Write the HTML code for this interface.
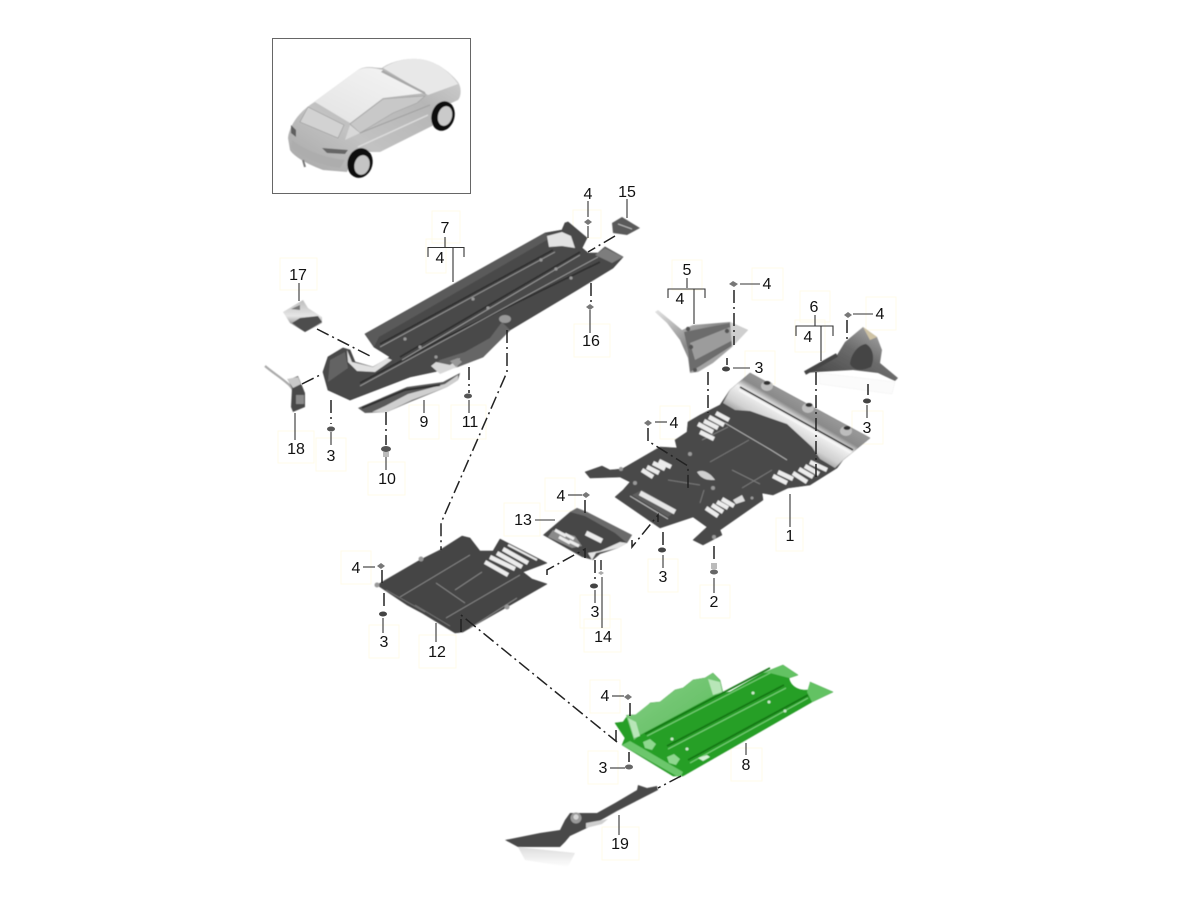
<!DOCTYPE html>
<html><head><meta charset="utf-8"><title>Underbody panels</title>
<style>
html,body{margin:0;padding:0;background:#fff;width:1200px;height:900px;overflow:hidden}
svg{display:block}
text{font-family:"Liberation Sans",sans-serif;font-size:16px;fill:#111;text-anchor:middle}
.l{stroke:#333;stroke-width:1.1;fill:none}
.d{stroke:#222;stroke-width:1.5;fill:none;stroke-dasharray:13 4 2 4}
.y{fill:none;stroke:#fffbe9;stroke-width:1}
.s{stroke:#ececec;stroke-width:4.4;stroke-linecap:butt;fill:none}
.r{stroke:#8a8a8a;stroke-width:.8;fill:none}
.n{fill:#555}
.h{fill:#999}
</style></head><body>
<svg width="1200" height="900" viewBox="0 0 1200 900" xmlns="http://www.w3.org/2000/svg">
<defs>
<filter id="b" x="-5%" y="-5%" width="110%" height="110%"><feGaussianBlur stdDeviation=".45"/></filter>
<linearGradient id="car" x1="0" y1="1" x2="1" y2="0"><stop offset="0" stop-color="#a6a6a6"/><stop offset=".35" stop-color="#c2c2c2"/><stop offset=".7" stop-color="#b6b6b6"/><stop offset="1" stop-color="#d6d6d6"/></linearGradient>
<linearGradient id="rf" x1="0" y1="1" x2="1" y2="0"><stop offset="0" stop-color="#e2e2e2"/><stop offset="1" stop-color="#f6f6f6"/></linearGradient>
<linearGradient id="lt" gradientUnits="userSpaceOnUse" x1="815" y1="403" x2="786" y2="452"><stop offset="0" stop-color="#9c9c9c"/><stop offset=".28" stop-color="#8a8a8a"/><stop offset=".42" stop-color="#f2f2f2"/><stop offset=".7" stop-color="#d0d0d0"/><stop offset="1" stop-color="#6a6a6a"/></linearGradient>
<linearGradient id="p5" x1="0" y1="0" x2="1" y2="1"><stop offset="0" stop-color="#e4e4e4"/><stop offset=".45" stop-color="#8a8a8a"/><stop offset=".75" stop-color="#a8a8a8"/><stop offset="1" stop-color="#4a4a4a"/></linearGradient>
<linearGradient id="p6" x1="0" y1="1" x2="1" y2="0"><stop offset="0" stop-color="#3f3f3f"/><stop offset=".55" stop-color="#6c6c6c"/><stop offset="1" stop-color="#bdbdbd"/></linearGradient>
<linearGradient id="gl" x1="0" y1="0" x2="1" y2="1"><stop offset="0" stop-color="#86cf86"/><stop offset="1" stop-color="#5abb5a"/></linearGradient>
<linearGradient id="fade" x1="0" y1="0" x2="0" y2="1"><stop offset="0" stop-color="#dcdcdc"/><stop offset="1" stop-color="#fff"/></linearGradient>
<linearGradient id="p17" x1="0" y1="0" x2="0" y2="1"><stop offset="0" stop-color="#bdbdbd"/><stop offset=".5" stop-color="#e6e6e6"/><stop offset="1" stop-color="#555"/></linearGradient>
</defs>

<!-- faint label boxes -->
<g class="y">
<rect x="432" y="211" width="28" height="32"/><rect x="426" y="239" width="20" height="34"/>
<rect x="280" y="258" width="37" height="32"/><rect x="573" y="210" width="28" height="28"/>
<rect x="574" y="324" width="36" height="33"/><rect x="278" y="431" width="36" height="32"/>
<rect x="316" y="438" width="30" height="33"/><rect x="368" y="462" width="37" height="33"/>
<rect x="409" y="405" width="30" height="34"/><rect x="451" y="405" width="35" height="34"/>
<rect x="672" y="260" width="30" height="30"/><rect x="752" y="268" width="31" height="32"/>
<rect x="800" y="291" width="30" height="31"/><rect x="795" y="320" width="30" height="32"/>
<rect x="866" y="297" width="30" height="33"/><rect x="745" y="351" width="30" height="33"/>
<rect x="852" y="411" width="31" height="33"/><rect x="660" y="406" width="30" height="33"/>
<rect x="776" y="518" width="27" height="33"/><rect x="648" y="559" width="30" height="33"/>
<rect x="700" y="585" width="30" height="33"/><rect x="545" y="478" width="30" height="33"/>
<rect x="504" y="503" width="36" height="33"/><rect x="341" y="551" width="30" height="33"/>
<rect x="369" y="625" width="30" height="33"/><rect x="419" y="635" width="37" height="33"/>
<rect x="580" y="595" width="30" height="33"/><rect x="584" y="619" width="37" height="33"/>
<rect x="590" y="680" width="30" height="33"/><rect x="588" y="751" width="30" height="33"/>
<rect x="731" y="748" width="31" height="33"/><rect x="602" y="827" width="37" height="33"/>
</g>

<!-- inset -->
<rect x="272.5" y="38.5" width="198" height="155" fill="#fff" stroke="#666" stroke-width="1"/>
<g filter="url(#b)">
<path d="M288 138C289 128 296 115 310 105L358 70C366 65 374 68 382 68 390 62 405 58 418 59 435 60 450 72 458 82 462 88 461 97 458 100L447 105C440 110 437 120 434 125L380 152 368 152C360 150 350 165 347 172L323 170C310 165 295 158 290 150Z" fill="url(#car)"/>
<path d="M310 105L358 70C366 66 375 68 383 70L425 93 383 98 350 123 315 102Z" fill="url(#rf)"/>
<path d="M383 68C392 62 405 58 418 59 435 60 450 72 458 84L428 95Z" fill="#e8e8e8"/>
<path d="M383 70L425 92 426 95 381 72Z" fill="#a8a8a8"/>
<path d="M308 107L344 125 338 138 300 122Z" fill="#d2d2d2" stroke="#999" stroke-width=".6"/>
<path d="M350 124L383 99 425 96 417 103 393 113 360 133Z" fill="#c8c8c8" stroke="#a0a0a0" stroke-width=".6"/>
<path d="M350 125L345 140 360 133Z" fill="#d8d8d8"/>
<path d="M322 148L348 150 345 154 327 153Z" fill="#666"/>
<path d="M291 125L296 130 296 137 291 133Z" fill="#5f5f5f"/>
<path d="M292 140C305 150 325 158 345 160L340 168C320 166 300 156 291 147Z" fill="#adadad"/>
<path d="M360 133L430 105" stroke="#a0a0a0" fill="none"/>
<path d="M358 147L428 115" stroke="#dcdcdc" fill="none" stroke-width="1.5"/>
<ellipse cx="360" cy="163" rx="12.5" ry="15" fill="#111" transform="rotate(15 360 163)"/>
<ellipse cx="362" cy="165" rx="7.5" ry="10" fill="#c4c4c4" transform="rotate(15 362 165)"/>
<ellipse cx="443" cy="116" rx="11.5" ry="15" fill="#111" transform="rotate(15 443 116)"/>
<ellipse cx="445" cy="116" rx="7" ry="10" fill="#cacaca" transform="rotate(15 445 116)"/>
<path d="M303 160L305 167" stroke="#777" stroke-width="2"/>
</g>

<g filter="url(#b)">
<!-- Part 7 -->
<path d="M323 372L328 357 343 348 350 350 355 362 373 367 390 357 374 347 365 334 545 233 562 230 565 223 568 222 587 238 582 248 588 253 598 253 605 247 623 257 613 268 577 290 510 330 483 357 457 367 410 377 350 400 328 390Z" fill="#4a4a4a" stroke="#333" stroke-width=".6"/>
<path d="M365 334L545 233 552 237 379 337 374 347Z" fill="#5a5a5a"/>
<path d="M547 236L562 232 571 236 575 248 562 246 549 247Z" fill="#e2e2e2"/>
<path d="M347 350L352 362 373 367 387 358 392 360 375 372 357 371 348 362Z" fill="#e0e0e0"/>
<path d="M330 360L345 352 348 368 328 382Z" fill="#636363"/>
<path d="M595 255L605 248 623 257 612 263Z" fill="#7d7d7d"/>
<path d="M380 344L553 250 M400 357L580 252 M360 383L388 368 440 340 600 262" stroke="#2e2e2e" stroke-width="1.8" fill="none"/>
<path d="M380 347L555 252 M360 386L598 257 M402 360L580 255" stroke="#a0a0a0" stroke-width=".8" fill="none"/>
<path d="M432 367L440 360 465 352 490 338 502 322 510 330 483 357 457 367Z" fill="#666"/>
<path d="M431 366L436 362 450 365 460 358 457 367 440 374Z" fill="#d8d8d8"/>
<ellipse cx="505" cy="319" rx="6" ry="4" fill="#999"/>
<path d="M450 361l8-3 4 4-6 5z" fill="#999"/>
<g class="h"><circle cx="405" cy="339" r="1.6"/><circle cx="473" cy="299" r="1.6"/><circle cx="541" cy="260" r="1.6"/><circle cx="420" cy="347" r="1.6"/><circle cx="488" cy="308" r="1.6"/><circle cx="556" cy="269" r="1.6"/><circle cx="436" cy="357" r="1.6"/><circle cx="571" cy="278" r="1.6"/></g>

<!-- Part 15 -->
<path d="M612 223L622 217 640 228 627 235 613 233Z" fill="#5a5a5a"/>
<path d="M618 224l14 5" stroke="#bbb"/>
<!-- Part 17 -->
<path d="M283 312L303 300 308 308 322 317 322 323 305 332 290 323Z" fill="url(#p17)"/>
<path d="M292 323L300 318 318 316 322 322 305 332Z" fill="#4d4d4d"/>
<path d="M291 309l9-4 0 5z" fill="#777"/>
<!-- Part 18 -->
<path d="M265 366C272 372 280 377 287 383 292 387 294 391 295 397" stroke="#aaa" stroke-width="2.2" fill="none"/>
<path d="M288 380L298 376 305 393 305 407 293 412 291 407 292 388Z" fill="#4a4a4a"/>
<path d="M287 379L298 377 301 384 293 388Z" fill="#c9c9c9"/>
<path d="M296 395h8v9h-8z" fill="#8a8a8a"/>
<!-- Part 9 -->
<path d="M358 408L407 387 443 382 460 373 458 380 447 387 410 402 387 412 365 413Z" fill="#5a5a5a"/>
<path d="M412 400L447 387 458 380 458 375 445 384 408 394 385 406 372 412 387 412Z" fill="#cfcfcf"/>
<path d="M362 408L405 390 440 385" stroke="#2d2d2d" stroke-width="2" fill="none"/>

<!-- Part 5 -->
<path d="M655 312L658 310 682 330 693 325 730 322 748 330 732 347 713 363 698 372 690 373 688 358 680 340 667 323Z" fill="url(#p5)"/>
<path d="M684 332L730 323 733 345 700 366 690 372 688 350Z" fill="#6c6c6c"/>
<path d="M690 343L730 327 733 340 695 360Z" fill="#9c9c9c"/>
<path d="M730 322L748 330 732 347Z" fill="#cfcfcf"/>
<g class="n"><circle cx="688" cy="329" r="2.2"/><circle cx="727" cy="331" r="2.2"/><circle cx="691" cy="347" r="2.2"/><circle cx="695" cy="370" r="2"/></g>
<!-- Part 6 -->
<path d="M820 373L895 382 892 394 820 384Z" fill="#fbfbfb" stroke="#f0f0f0" stroke-width=".5"/>
<path d="M805 373L837 355 845 342 863 327 877 337 882 350 880 363 898 378 895 381 878 373 853 370 817 372Z" fill="url(#p6)"/>
<path d="M850 364C851 354 858 345 866 344 873 348 875 358 871 367 862 371 854 371 850 364Z" fill="#454545"/>
<path d="M863 327L877 337 870 340Z" fill="#cfc3a4"/>
<path d="M805 373L837 355" stroke="#444" stroke-width="4"/>

<!-- Part 1 -->
<path d="M585 472L602 466 610 470 622 469 660 447 677 448 675 440 687 432 688 422 700 415 720 405 730 390 750 373 870 438 843 460 837 468 810 485 788 488 773 495 762 493 763 500 720 530 722 535 703 545 693 540 707 527 693 517 660 528 615 497 623 490 630 482 620 477 590 478Z" fill="#4a4a4a" stroke="#3a3a3a" stroke-width=".5"/>
<path d="M723 403L730 390 750 373 870 438 843 460 835 468 820 459 812 447 787 424 750 411 735 410Z" fill="url(#lt)"/>
<path d="M740 387L853 450" stroke="#2e2e2e" stroke-width="1.6"/>
<path d="M739 390L851 453" stroke="#f6f6f6" stroke-width="2"/>
<ellipse cx="767" cy="386" rx="6" ry="5" fill="#bdbdbd"/><ellipse cx="808" cy="408" rx="6" ry="5" fill="#bdbdbd"/><ellipse cx="846" cy="431" rx="6" ry="5" fill="#bdbdbd"/>
<g fill="#333"><ellipse cx="767" cy="383" rx="3.5" ry="2"/><ellipse cx="809" cy="405" rx="3.5" ry="2"/><ellipse cx="847" cy="428" rx="3.5" ry="2"/></g>
<path d="M725 423L771 450 787 460" stroke="#bdbdbd" stroke-width=".8" fill="none"/>
<path d="M702 440L728 427 M710 462L749 440 M742 488L772 470 M700 503L704 490 M732 470L760 484 M668 480L700 485" stroke="#7a7a7a" stroke-width="1" fill="none"/>
<path d="M697 472C704 468 712 475 715 480 708 480 702 480 697 472Z" fill="#cfcfcf"/>
<path d="M733 500l9-5 3 6-9 3z" fill="#ddd"/>
<g class="s">
<path d="M642 470L653 477M647 467L659 473M653 463L665 469M659 461L671 467"/>
<path d="M698 424L713 432M704 421L718 428M709 417L724 425M716 413L729 420M700 432L714 439"/>
<path d="M706 508L718 516M712 505L723 512M717 502L728 508M722 499L734 506"/>
<path d="M773 476L787 483M778 472L793 479M793 473L807 482M799 469L813 477M805 466L819 474M810 462L827 470"/>
</g>
<path d="M632 495L642 490 677 510 668 517Z" fill="#5f5f5f"/>
<path d="M640 493L675 512" stroke="#e6e6e6" stroke-width="5"/>
<path d="M630 496L668 519" stroke="#bdbdbd" stroke-width="1"/>
<g class="h"><circle cx="621" cy="469" r="2"/><circle cx="635" cy="483" r="2"/><circle cx="690" cy="454" r="2"/><circle cx="713" cy="488" r="2"/><circle cx="752" cy="498" r="1.5"/><circle cx="714" cy="537" r="2"/></g>

<!-- Part 13 -->
<path d="M543 535L570 512 577 508 587 512 632 535 627 543 618 548 600 554 593 560 582 557Z" fill="#474747"/>
<path d="M570 512L577 508 587 512 632 535 627 543 615 533 585 516Z" fill="#6a6a6a"/>
<path d="M596 553L618 548 627 543 620 542 600 551 588 553 592 560Z" fill="#e3e3e3"/>
<path d="M553 530L575 536 582 546 572 548 548 537Z" fill="#8a8a8a"/>
<g class="s" style="stroke-width:3"><path d="M555 530L566 536M565 534L574 539M559 537L570 543M569 541L579 546"/></g>
<path d="M586 533L602 541" stroke="#ececec" stroke-width="5"/>

<!-- Part 12 -->
<path d="M377 585L420 560 440 550 462 536 470 538 480 551 493 551 500 539 547 563 523 572 532 579 547 584 507 607 463 632 455 633 422 613 407 605Z" fill="#454545" stroke="#333" stroke-width=".5"/>
<g class="s"><path d="M485 562L508 575M490 557L515 569M497 553L522 567M503 549L528 563"/></g>
<path d="M508 545L537 560" stroke="#ececec" stroke-width="2"/>
<path d="M400 597L470 555 M436 583L465 603 M455 590L482 572 M470 628L517 598 M446 618L520 575" stroke="#8a8a8a" stroke-width=".9" fill="none"/>
<path d="M386 590L425 612 M415 605L450 626" stroke="#777" stroke-width=".8" fill="none"/>
<g class="h"><circle cx="421" cy="559" r="2.5"/><circle cx="507" cy="607" r="2.5"/><circle cx="377" cy="585" r="2.5"/></g>

<!-- Part 8 -->
<path d="M615 723L623 722 628 715 635 715 643 712 650 703 660 702 675 690 683 688 693 680 705 678 713 673 720 680 723 693 730 692 763 673 778 667 783 665 798 675 789 678C790 686 800 693 812 689L810 682 833 692 812 702 683 776 673 776 622 745 625 738Z" fill="#259f25" stroke="#1a8a1a" stroke-width=".5"/>
<path d="M626 715L635 715 650 703 660 702 675 690 683 688 693 680 705 678 713 673 720 680 723 693 715 695 640 735 634 740Z" fill="url(#gl)"/>
<path d="M708 679L720 682 722 692 713 695Z" fill="#b8e6b8"/>
<path d="M628 718L636 722 640 736 634 738Z" fill="#b8e6b8"/>
<path d="M645 734L770 668 M667 746L784 685 M688 760L808 695" stroke="#177717" stroke-width="1.8" fill="none"/>
<path d="M647 736L772 672 M668 749L786 688 M690 763L808 698" stroke="#7bd07b" stroke-width="1" fill="none"/>
<path d="M622 745L680 778 683 772 630 741Z" fill="#6cc76c"/>
<path d="M643 742l7-3 6 5-4 6-7-2z" fill="#8fd88f"/>
<path d="M667 757l7-3 6 5-4 6-7-2z" fill="#8fd88f"/>
<path d="M698 758l9-3 3 2-7 4z" fill="#d6f2d6"/>
<path d="M763 673L783 665 798 675 789 678 770 673Z" fill="#63c263"/>
<path d="M810 682L833 692 812 702 807 692Z" fill="#63c263"/>
<g fill="#cdeccd"><circle cx="753" cy="693" r="1.5"/><circle cx="769" cy="702" r="1.5"/><circle cx="785" cy="711" r="1.5"/><circle cx="672" cy="739" r="1.5"/><circle cx="687" cy="749" r="1.5"/></g>

<!-- Part 19 -->
<path d="M518 847L575 853 568 867 525 860Z" fill="url(#fade)"/>
<path d="M638 785L647 788 657 786 658 790 617 811 603 819 587 828 570 836 565 842 560 847 518 847 505 840 540 833 560 830 565 820 570 813 583 813 597 813 615 803 637 790Z" fill="#484848"/>
<circle cx="576" cy="818" r="5.5" fill="#9a9a9a"/><circle cx="576" cy="817" r="2.6" fill="#d5d5d5"/>
<path d="M586 823l22-4-6 5-16 4z" fill="#cfcfcf"/>
</g>

<!-- Fasteners -->
<g fill="#777">
<path d="M584 222l4-3 4 3-4 3z"/><path d="M586 307l4-3 4 3-4 3z"/><ellipse cx="331" cy="429" rx="4" ry="2.5" fill="#555"/>
<ellipse cx="386" cy="449" rx="5" ry="3" fill="#555"/><path d="M383 452h6v5h-6z" fill="#bbb"/>
<ellipse cx="468" cy="396" rx="4" ry="2.5" fill="#555"/>
<path d="M729 284l4-3 5 3-4 3z"/><ellipse cx="726" cy="369" rx="4" ry="2.5" fill="#444"/>
<path d="M844 315l4-3 4 3-4 3z"/><ellipse cx="867" cy="401" rx="4" ry="2.5" fill="#444"/>
<path d="M644 423l4-3 4 3-4 3z"/><ellipse cx="662" cy="550" rx="4" ry="2.5" fill="#444"/>
<path d="M711 563h6v6h-6z" fill="#bbb"/><ellipse cx="714" cy="572" rx="4" ry="2.5" fill="#666"/>
<path d="M582 495l4-3 4 3-4 3z"/><path d="M377 566l4-3 4 3-4 3z"/><ellipse cx="383" cy="614" rx="4" ry="2.5" fill="#444"/>
<ellipse cx="594" cy="586" rx="4" ry="2.5" fill="#444"/><path d="M598 573l3-2 3 2-3 2z" fill="#aaa"/>
<path d="M624 697l4-3 4 3-4 3z"/><ellipse cx="629" cy="767" rx="4" ry="2.5" fill="#666"/>
</g>

<!-- Leaders -->
<g class="l">
<path d="M445 237V247M428 257V247.5H464V257M453 247.5V282"/>
<path d="M588 201V217M588 226V238"/><path d="M627 199V218"/>
<path d="M590 310V333"/><path d="M299 283V301"/><path d="M295 413V440"/>
<path d="M331 432V445"/><path d="M386 457V470"/><path d="M424 400V413"/><path d="M469 400V413"/>
<path d="M687 278V288M668 298V289H705V298M694 289V324"/>
<path d="M740 284H760"/><path d="M733 368H750"/>
<path d="M815 315V326M796 336V326H833V336M821 326V361"/>
<path d="M853 314H873"/><path d="M867 405V418"/><path d="M655 422H667"/>
<path d="M790 494V527"/><path d="M663 555V568"/><path d="M714 578V593"/>
<path d="M535 520H555"/><path d="M568 495H582"/><path d="M363 567H375"/><path d="M383 618V633"/>
<path d="M436 623V642"/><path d="M595 590V603"/><path d="M602 577V628"/>
<path d="M746 743V755"/><path d="M612 696H624"/><path d="M610 768H625"/><path d="M619 815V835"/>
</g>
<g class="d">
<path d="M615 236L588 252"/><path d="M591 283V303"/><path d="M317 329L372 357"/>
<path d="M302 384L320 375"/><path d="M331 400V424"/><path d="M386 412V445"/><path d="M469 367V393"/>
<path d="M507 330V372L441 523V550"/><path d="M461 632V615L617 742"/>
<path d="M547 575V570L585 549V558"/><path d="M632 540V547L658 515V522"/>
<path d="M585 500V513"/><path d="M595 560V581"/>
<path d="M382 570V583"/><path d="M384 593V608"/>
<path d="M734 290V345"/><path d="M727 358V365"/><path d="M708 372V413"/>
<path d="M816 372V480"/><path d="M847 320V341"/><path d="M868 384V395"/>
<path d="M648 428V441L688 466V488"/>
<path d="M663 532V546"/><path d="M714 546V561"/>
<path d="M630 703V716"/><path d="M616 730V741"/><path d="M629 752V762"/><path d="M681 776L658 788"/>
</g>
<path d="M601 560V570" stroke="#222" stroke-width="1.4"/>

<!-- Labels -->
<text x="445" y="233">7</text><text x="440" y="263">4</text>
<text x="588" y="199">4</text><text x="627" y="197">15</text>
<text x="298" y="280">17</text><text x="591" y="346">16</text>
<text x="296" y="454">18</text><text x="331" y="461">3</text>
<text x="387" y="484">10</text><text x="424" y="427">9</text><text x="470" y="427">11</text>
<text x="687" y="275">5</text><text x="680" y="304">4</text><text x="767" y="289">4</text>
<text x="814" y="312">6</text><text x="808" y="342">4</text><text x="880" y="319">4</text>
<text x="759" y="373">3</text><text x="867" y="433">3</text><text x="674" y="428">4</text>
<text x="790" y="541">1</text><text x="663" y="582">3</text><text x="714" y="607">2</text>
<text x="561" y="501">4</text><text x="523" y="525">13</text><text x="356" y="573">4</text>
<text x="384" y="647">3</text><text x="437" y="657">12</text><text x="595" y="617">3</text>
<text x="603" y="642">14</text><text x="605" y="701">4</text><text x="603" y="773">3</text>
<text x="746" y="770">8</text><text x="620" y="849">19</text>
</svg>
</body></html>
